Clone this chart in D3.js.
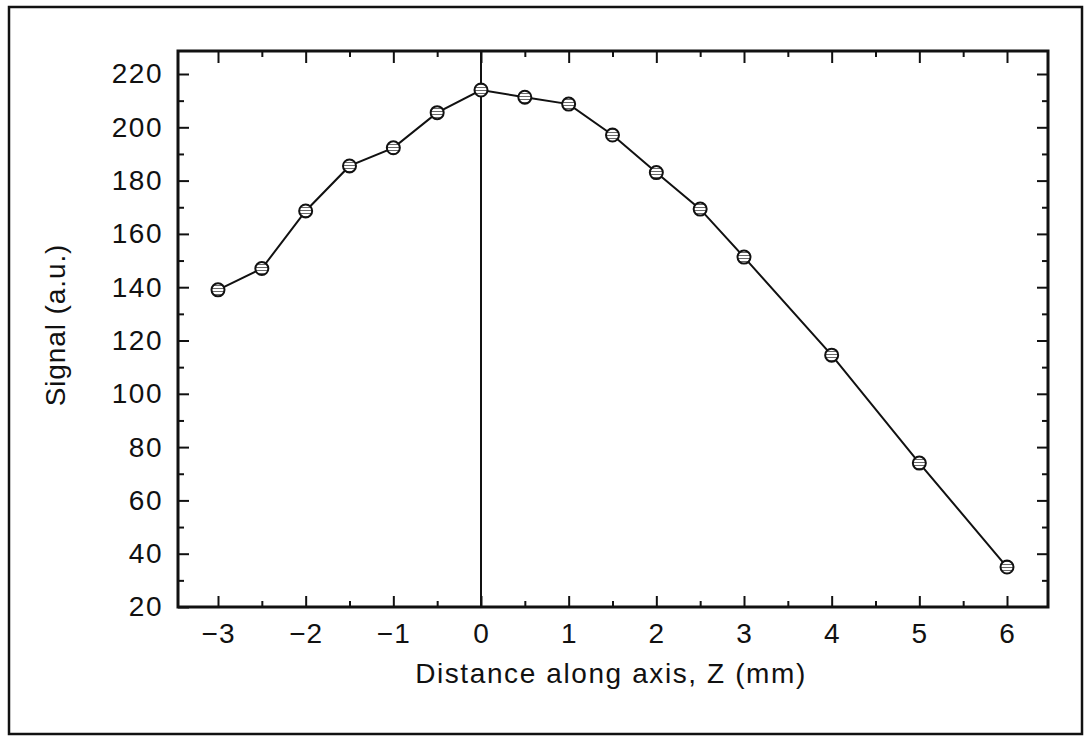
<!DOCTYPE html>
<html>
<head>
<meta charset="utf-8">
<script src="https://cdn.jsdelivr.net/npm/d3@7"></script>
<style>
  html, body { margin: 0; padding: 0; background: #fff; }
  svg { display: block; }
  text { font-family: "Liberation Sans", "DejaVu Sans", sans-serif; fill: #111; }
</style>
</head>
<body>
<svg id="chart" width="1085" height="737"></svg>
<script>
// ---- data ----
const zPositions = [-3, -2.5, -2, -1.5, -1, -0.5, 0, 0.5, 1, 1.5, 2, 2.5, 3, 4, 5, 6];
const signalValues = [139, 147, 168.6, 185.5, 192.3, 205.5, 214, 211.3, 208.7, 197.1, 183, 169.3, 151.3, 114.5, 74, 35];
const xTickValues = [-3, -2, -1, 0, 1, 2, 3, 4, 5, 6];
const yTickValues = [20, 40, 60, 80, 100, 120, 140, 160, 180, 200, 220];
const xLabel = "Distance along axis, Z (mm)";
const yLabel = "Signal (a.u.)";

// ---- layout ----
const svg = d3.select("#chart");
const box = { left: 178, top: 51, right: 1048, bottom: 607 };

const x = d3.scaleLinear().domain([-3, 6]).range([218, 1007]);
const y = d3.scaleLinear().domain([20, 220]).range([607, 74]);

// outer frame
svg.append("rect")
  .attr("x", 9).attr("y", 7).attr("width", 1073).attr("height", 727)
  .attr("fill", "none").attr("stroke", "#111").attr("stroke-width", 2.5);

// pattern for markers
const defs = svg.append("defs");
const pat = defs.append("pattern").attr("id", "hatch")
  .attr("patternUnits", "userSpaceOnUse").attr("width", 4).attr("height", 3);
pat.append("rect").attr("width", 4).attr("height", 3).attr("fill", "#fff");
pat.append("rect").attr("width", 4).attr("height", 1).attr("fill", "#666");

const g = svg.append("g");

// minor ticks
const xMinor = d3.range(-3.5, 6.51, 0.5).filter(v => !xTickValues.includes(v) && x(v) > box.left + 2 && x(v) < box.right - 2);
const yMinor = d3.range(30, 230, 20).filter(v => y(v) > box.top + 2);

function styleTicks(sel) {
  sel.select(".domain").remove();
  sel.selectAll(".tick line").attr("stroke", "#111").attr("stroke-width", 2);
}

// bottom axis
const xAxisB = d3.axisBottom(x).tickValues(xTickValues).tickSize(-11).tickPadding(16)
  .tickFormat(d => d < 0 ? "\u2212" + Math.abs(d) : d);
const gxb = g.append("g").attr("transform", `translate(0,${box.bottom})`).call(xAxisB);
styleTicks(gxb);
gxb.selectAll(".tick text").attr("font-size", 28).attr("fill", "#111").attr("letter-spacing", 1);

const gxbm = g.append("g").attr("transform", `translate(0,${box.bottom})`)
  .call(d3.axisBottom(x).tickValues(xMinor).tickSize(-6).tickFormat(""));
styleTicks(gxbm);

// top axis
const gxt = g.append("g").attr("transform", `translate(0,${box.top})`)
  .call(d3.axisTop(x).tickValues(xTickValues).tickSize(-12).tickFormat(""));
styleTicks(gxt);
const gxtm = g.append("g").attr("transform", `translate(0,${box.top})`)
  .call(d3.axisTop(x).tickValues(xMinor).tickSize(-6).tickFormat(""));
styleTicks(gxtm);

// left axis
const gyl = g.append("g").attr("transform", `translate(${box.left},0)`)
  .call(d3.axisLeft(y).tickValues(yTickValues).tickSize(-11).tickPadding(15));
styleTicks(gyl);
gyl.selectAll(".tick text").attr("font-size", 28).attr("fill", "#111").attr("letter-spacing", 1.5);
const gylm = g.append("g").attr("transform", `translate(${box.left},0)`)
  .call(d3.axisLeft(y).tickValues(yMinor).tickSize(-6).tickFormat(""));
styleTicks(gylm);

// right axis
const gyr = g.append("g").attr("transform", `translate(${box.right},0)`)
  .call(d3.axisRight(y).tickValues(yTickValues.filter(v => v > 20)).tickSize(-11).tickFormat(""));
styleTicks(gyr);
const gyrm = g.append("g").attr("transform", `translate(${box.right},0)`)
  .call(d3.axisRight(y).tickValues(yMinor).tickSize(-6).tickFormat(""));
styleTicks(gyrm);

// plot frame
g.append("rect")
  .attr("x", box.left).attr("y", box.top)
  .attr("width", box.right - box.left).attr("height", box.bottom - box.top)
  .attr("fill", "none").attr("stroke", "#111").attr("stroke-width", 3);

// vertical line at z = 0
g.append("line")
  .attr("x1", x(0)).attr("x2", x(0))
  .attr("y1", box.top).attr("y2", box.bottom)
  .attr("stroke", "#111").attr("stroke-width", 2);

// data line
const pts = zPositions.map((z, i) => ({ z, v: signalValues[i] }));
g.append("path").datum(pts)
  .attr("fill", "none").attr("stroke", "#111").attr("stroke-width", 2)
  .attr("d", d3.line().x(d => x(d.z)).y(d => y(d.v)));

// markers
g.selectAll("circle.pt").data(pts).enter().append("circle")
  .attr("class", "pt")
  .attr("cx", d => x(d.z)).attr("cy", d => y(d.v)).attr("r", 6.5)
  .attr("fill", "url(#hatch)").attr("stroke", "#111").attr("stroke-width", 2);

// axis titles
svg.append("text")
  .attr("x", 611).attr("y", 683)
  .attr("text-anchor", "middle").attr("font-size", 28).attr("letter-spacing", 1.6)
  .text(xLabel);

svg.append("text")
  .attr("transform", "translate(65,325) rotate(-90)")
  .attr("text-anchor", "middle").attr("font-size", 28).attr("letter-spacing", 0.9)
  .text(yLabel);
</script>
</body>
</html>
